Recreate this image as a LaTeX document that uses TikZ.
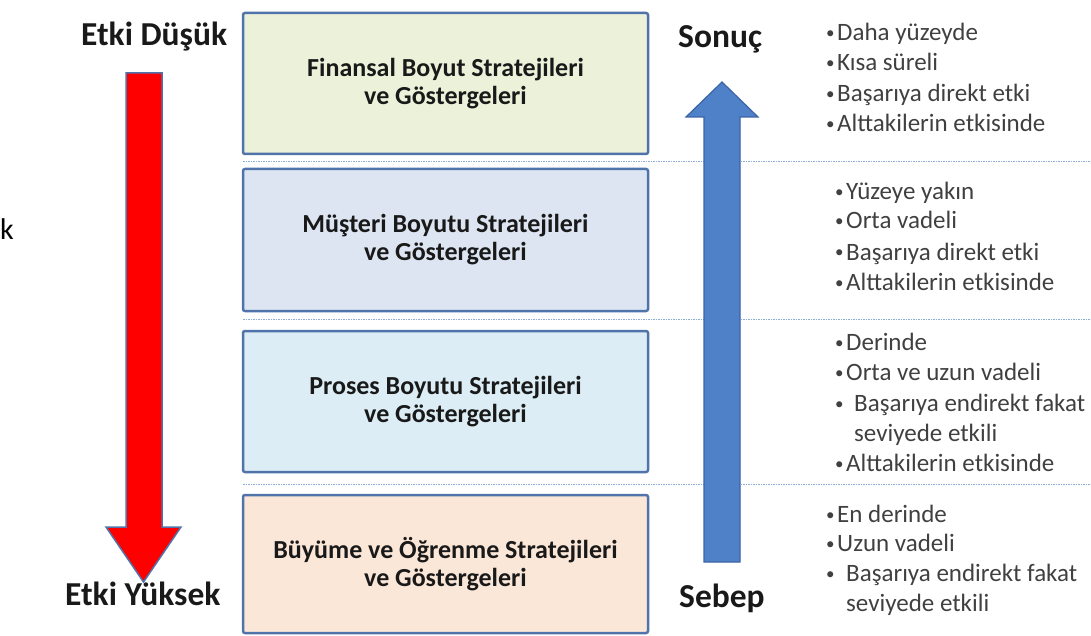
\documentclass[tikz,border=0pt]{standalone}
\usepackage{fontspec}
\setmainfont{Carlito}
\usetikzlibrary{positioning}

\definecolor{kirmizi}{RGB}{255,0,0}
\definecolor{mavi}{RGB}{79,129,200}
\definecolor{maviKenar}{RGB}{60,100,165}
\definecolor{cerceve}{RGB}{80,115,170}
\definecolor{ayrac}{RGB}{140,172,212}
\definecolor{finRenk}{RGB}{236,241,218}
\definecolor{musRenk}{RGB}{221,229,242}
\definecolor{proRenk}{RGB}{220,237,245}
\definecolor{buyRenk}{RGB}{251,231,216}

\newcommand{\imle}[1]{\llap{\makebox[#1][l]{\fontsize{17}{17}\selectfont\raisebox{2pt}{•}}}}

\begin{document}
\begin{tikzpicture}[x=1pt, y=-1pt,
  kutu/.style={draw=cerceve, line width=2.5pt, rounded corners=2pt,
    minimum width=405pt, align=center, text=black!90,
    font=\bfseries\fontsize{26}{28}\selectfont},
  baslik/.style={anchor=base west, inner sep=0pt, text=black!90,
    font=\bfseries\fontsize{33.5}{36}\selectfont},
  madde/.style={anchor=base west, inner sep=0pt, text=black!75,
    font=\fontsize{25}{30}\selectfont}]
  \useasboundingbox (0,0) rectangle (1091,636);
  \clip (0,0) rectangle (1091,636);

  % Ayraçlar (noktalı çizgiler)
  \foreach \y in {162, 319, 484}
    \draw[ayrac, line width=1pt, dash pattern=on 1.5pt off 1pt] (243,\y) -- (1091,\y);

  % Perspektif kutuları
  \node[kutu, fill=finRenk, minimum height=141pt] (fin) at (445.5,83.5)
    {Finansal Boyut Stratejileri\\ve Göstergeleri};
  \node[kutu, fill=musRenk, minimum height=142pt] (mus) at (445.5,240)
    {Müşteri Boyutu Stratejileri\\ve Göstergeleri};
  \node[kutu, fill=proRenk, minimum height=141pt] (pro) at (445.5,401.5)
    {Proses Boyutu Stratejileri\\ve Göstergeleri};
  \node[kutu, fill=buyRenk, minimum height=138pt] (buy) at (445.5,564)
    {Büyüme ve Öğrenme Stratejileri\\ve Göstergeleri};

  % Kırmızı ok (etki)
  \fill[kirmizi, draw=cerceve, line width=1.5pt, line join=miter]
    (126,73) -- (162,73) -- (162,527) -- (181,527) -- (143.5,582)
    -- (106,527) -- (126,527) -- cycle;
  \node[baslik] (dusuk) at (81,46) {Etki Düşük};
  \node[baslik] (yuksek) at (65,605) {Etki Yüksek};
  \node[anchor=base west, inner sep=0pt, font=\fontsize{30}{34}\selectfont]
    (kesik) at (0,240) {k};

  % Mavi ok (sebep - sonuç)
  \fill[mavi, draw=maviKenar, line width=1.2pt, line join=miter]
    (704,562) -- (740,562) -- (740,117) -- (758,117) -- (722,82)
    -- (686,117) -- (704,117) -- cycle;
  \node[baslik] (sonuc) at (678,48) {Sonuç};
  \node[baslik] (sebep) at (679,607) {Sebep};

  % Maddeler
  \foreach \yy/\txt [count=\i] in {41/Daha yüzeyde, 71/Kısa süreli,
    102/Başarıya direkt etki, 132/Alttakilerin etkisinde}
    \node[madde] (f\i) at (837,\yy) {\imle{11pt}\txt};
  \foreach \yy/\txt [count=\i] in {200/Yüzeye yakın, 229/Orta vadeli,
    260/Başarıya direkt etki, 290/Alttakilerin etkisinde}
    \node[madde] (m\i) at (846,\yy) {\imle{11pt}\txt};
  \foreach \yy/\txt [count=\i] in {350/Derinde, 380/Orta ve uzun vadeli,
    471/Alttakilerin etkisinde}
    \node[madde] (p\i) at (846,\yy) {\imle{11pt}\txt};
  \node[madde] (p4) at (854,411) {\imle{19pt}Başarıya endirekt fakat};
  \node[madde] (p5) at (854,441) {seviyede etkili};
  \foreach \yy/\txt [count=\i] in {522/En derinde, 551/Uzun vadeli}
    \node[madde] (b\i) at (837,\yy) {\imle{11pt}\txt};
  \node[madde] (b3) at (846,581) {\imle{20pt}Başarıya endirekt fakat};
  \node[madde] (b4) at (846,611) {seviyede etkili};
\end{tikzpicture}
\end{document}
